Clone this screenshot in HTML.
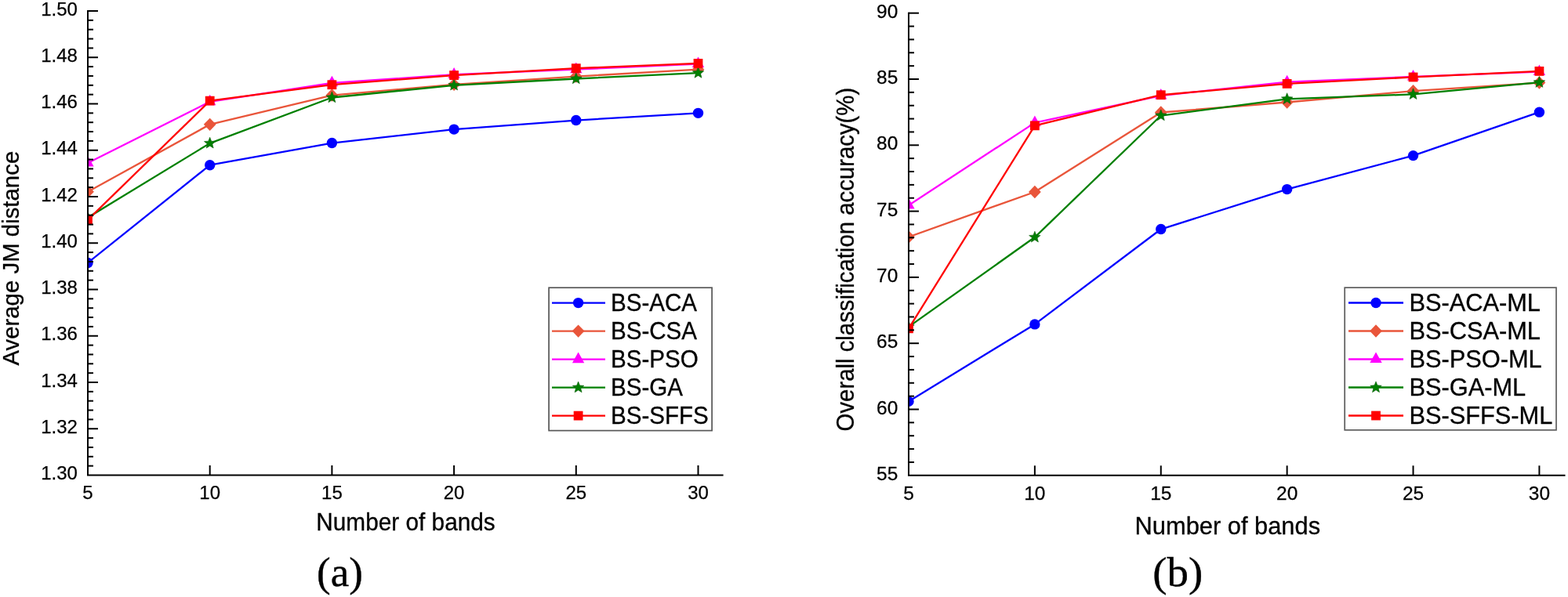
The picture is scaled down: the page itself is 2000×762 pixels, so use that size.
<!DOCTYPE html>
<html><head><meta charset="utf-8"><title>Band selection comparison</title>
<style>html,body{margin:0;padding:0;background:#fff;width:2000px;height:762px;overflow:hidden}svg{display:block}</style>
</head><body>
<svg width="2000" height="762" viewBox="0 0 2000 762">
<rect width="2000" height="762" fill="#fff"/>
<clipPath id="ca"><rect x="112" y="0" width="830.6" height="606.5"/></clipPath>
<g clip-path="url(#ca)">
<polyline points="112.00,335.43 267.70,210.71 423.40,182.57 579.10,165.09 734.80,153.53 890.50,144.35" fill="none" stroke="#0000ff" stroke-width="2.3" stroke-linejoin="round"/>
<circle cx="112.00" cy="335.43" r="6.7" fill="#0000ff"/>
<circle cx="267.70" cy="210.71" r="6.7" fill="#0000ff"/>
<circle cx="423.40" cy="182.57" r="6.7" fill="#0000ff"/>
<circle cx="579.10" cy="165.09" r="6.7" fill="#0000ff"/>
<circle cx="734.80" cy="153.53" r="6.7" fill="#0000ff"/>
<circle cx="890.50" cy="144.35" r="6.7" fill="#0000ff"/>
<polyline points="112.00,244.78 267.70,158.87 423.40,121.54 579.10,107.91 734.80,97.54 890.50,88.65" fill="none" stroke="#e9553a" stroke-width="2.3" stroke-linejoin="round"/>
<path d="M112.00,236.58 L119.90,244.78 L112.00,252.98 L104.10,244.78 Z" fill="#e9553a"/>
<path d="M267.70,150.67 L275.60,158.87 L267.70,167.07 L259.80,158.87 Z" fill="#e9553a"/>
<path d="M423.40,113.34 L431.30,121.54 L423.40,129.74 L415.50,121.54 Z" fill="#e9553a"/>
<path d="M579.10,99.71 L587.00,107.91 L579.10,116.11 L571.20,107.91 Z" fill="#e9553a"/>
<path d="M734.80,89.34 L742.70,97.54 L734.80,105.74 L726.90,97.54 Z" fill="#e9553a"/>
<path d="M890.50,80.45 L898.40,88.65 L890.50,96.85 L882.60,88.65 Z" fill="#e9553a"/>
<polyline points="112.00,208.04 267.70,129.83 423.40,105.84 579.10,95.17 734.80,88.65 890.50,81.54" fill="none" stroke="#ff00ff" stroke-width="2.3" stroke-linejoin="round"/>
<path d="M112.00,198.98 L119.70,212.58 L104.30,212.58 Z" fill="#ff00ff"/>
<path d="M267.70,120.77 L275.40,134.37 L260.00,134.37 Z" fill="#ff00ff"/>
<path d="M423.40,96.77 L431.10,110.37 L415.70,110.37 Z" fill="#ff00ff"/>
<path d="M579.10,86.11 L586.80,99.71 L571.40,99.71 Z" fill="#ff00ff"/>
<path d="M734.80,79.59 L742.50,93.19 L727.10,93.19 Z" fill="#ff00ff"/>
<path d="M890.50,72.48 L898.20,86.08 L882.80,86.08 Z" fill="#ff00ff"/>
<polyline points="112.00,277.66 267.70,182.86 423.40,124.50 579.10,108.80 734.80,100.50 890.50,93.10" fill="none" stroke="#008000" stroke-width="2.3" stroke-linejoin="round"/>
<path d="M112.00,270.06 L113.94,274.99 L119.23,275.31 L115.14,278.68 L116.47,283.81 L112.00,280.96 L107.53,283.81 L108.86,278.68 L104.77,275.31 L110.06,274.99 Z" fill="#008000" stroke="#0a5a0a" stroke-width="0.6" stroke-linejoin="miter"/>
<path d="M267.70,175.26 L269.64,180.19 L274.93,180.51 L270.84,183.88 L272.17,189.01 L267.70,186.16 L263.23,189.01 L264.56,183.88 L260.47,180.51 L265.76,180.19 Z" fill="#008000" stroke="#0a5a0a" stroke-width="0.6" stroke-linejoin="miter"/>
<path d="M423.40,116.90 L425.34,121.83 L430.63,122.15 L426.54,125.52 L427.87,130.65 L423.40,127.80 L418.93,130.65 L420.26,125.52 L416.17,122.15 L421.46,121.83 Z" fill="#008000" stroke="#0a5a0a" stroke-width="0.6" stroke-linejoin="miter"/>
<path d="M579.10,101.20 L581.04,106.13 L586.33,106.45 L582.24,109.82 L583.57,114.95 L579.10,112.10 L574.63,114.95 L575.96,109.82 L571.87,106.45 L577.16,106.13 Z" fill="#008000" stroke="#0a5a0a" stroke-width="0.6" stroke-linejoin="miter"/>
<path d="M734.80,92.90 L736.74,97.84 L742.03,98.16 L737.94,101.52 L739.27,106.65 L734.80,103.80 L730.33,106.65 L731.66,101.52 L727.57,98.16 L732.86,97.84 Z" fill="#008000" stroke="#0a5a0a" stroke-width="0.6" stroke-linejoin="miter"/>
<path d="M890.50,85.50 L892.44,90.43 L897.73,90.75 L893.64,94.12 L894.97,99.25 L890.50,96.40 L886.03,99.25 L887.36,94.12 L883.27,90.75 L888.56,90.43 Z" fill="#008000" stroke="#0a5a0a" stroke-width="0.6" stroke-linejoin="miter"/>
<polyline points="112.00,280.63 267.70,128.65 423.40,108.21 579.10,96.06 734.80,87.17 890.50,80.95" fill="none" stroke="#ff0000" stroke-width="2.3" stroke-linejoin="round"/>
<rect x="106.10" y="274.73" width="11.80" height="11.80" fill="#ff0000"/>
<rect x="261.80" y="122.75" width="11.80" height="11.80" fill="#ff0000"/>
<rect x="417.50" y="102.31" width="11.80" height="11.80" fill="#ff0000"/>
<rect x="573.20" y="90.16" width="11.80" height="11.80" fill="#ff0000"/>
<rect x="728.90" y="81.27" width="11.80" height="11.80" fill="#ff0000"/>
<rect x="884.60" y="75.05" width="11.80" height="11.80" fill="#ff0000"/>
</g>
<g stroke="#000" stroke-width="2" fill="none">
<path d="M112,13 L112,606.5 L922.6,606.5"/>
<path d="M112,594.65 h7"/>
<path d="M112,582.80 h7"/>
<path d="M112,570.95 h7"/>
<path d="M112,559.10 h7"/>
<path d="M112,547.25 h13"/>
<path d="M112,535.40 h7"/>
<path d="M112,523.55 h7"/>
<path d="M112,511.70 h7"/>
<path d="M112,499.85 h7"/>
<path d="M112,488.00 h13"/>
<path d="M112,476.15 h7"/>
<path d="M112,464.30 h7"/>
<path d="M112,452.45 h7"/>
<path d="M112,440.60 h7"/>
<path d="M112,428.75 h13"/>
<path d="M112,416.90 h7"/>
<path d="M112,405.05 h7"/>
<path d="M112,393.20 h7"/>
<path d="M112,381.35 h7"/>
<path d="M112,369.50 h13"/>
<path d="M112,357.65 h7"/>
<path d="M112,345.80 h7"/>
<path d="M112,333.95 h7"/>
<path d="M112,322.10 h7"/>
<path d="M112,310.25 h13"/>
<path d="M112,298.40 h7"/>
<path d="M112,286.55 h7"/>
<path d="M112,274.70 h7"/>
<path d="M112,262.85 h7"/>
<path d="M112,251.00 h13"/>
<path d="M112,239.15 h7"/>
<path d="M112,227.30 h7"/>
<path d="M112,215.45 h7"/>
<path d="M112,203.60 h7"/>
<path d="M112,191.75 h13"/>
<path d="M112,179.90 h7"/>
<path d="M112,168.05 h7"/>
<path d="M112,156.20 h7"/>
<path d="M112,144.35 h7"/>
<path d="M112,132.50 h13"/>
<path d="M112,120.65 h7"/>
<path d="M112,108.80 h7"/>
<path d="M112,96.95 h7"/>
<path d="M112,85.10 h7"/>
<path d="M112,73.25 h13"/>
<path d="M112,61.40 h7"/>
<path d="M112,49.55 h7"/>
<path d="M112,37.70 h7"/>
<path d="M112,25.85 h7"/>
<path d="M112,14.00 h13"/>
<path d="M267.70,606.5 v-12.5"/>
<path d="M423.40,606.5 v-12.5"/>
<path d="M579.10,606.5 v-12.5"/>
<path d="M734.80,606.5 v-12.5"/>
<path d="M890.50,606.5 v-12.5"/>
</g>
<g fill="#000">
<text transform="translate(98.90,612.20)" font-family="'Liberation Sans', Arial, sans-serif" font-size="24" text-anchor="end" stroke="#000" stroke-width="0.25">1.30</text>
<text transform="translate(98.90,552.95)" font-family="'Liberation Sans', Arial, sans-serif" font-size="24" text-anchor="end" stroke="#000" stroke-width="0.25">1.32</text>
<text transform="translate(98.90,493.70)" font-family="'Liberation Sans', Arial, sans-serif" font-size="24" text-anchor="end" stroke="#000" stroke-width="0.25">1.34</text>
<text transform="translate(98.90,434.45)" font-family="'Liberation Sans', Arial, sans-serif" font-size="24" text-anchor="end" stroke="#000" stroke-width="0.25">1.36</text>
<text transform="translate(98.90,375.20)" font-family="'Liberation Sans', Arial, sans-serif" font-size="24" text-anchor="end" stroke="#000" stroke-width="0.25">1.38</text>
<text transform="translate(98.90,315.95)" font-family="'Liberation Sans', Arial, sans-serif" font-size="24" text-anchor="end" stroke="#000" stroke-width="0.25">1.40</text>
<text transform="translate(98.90,256.70)" font-family="'Liberation Sans', Arial, sans-serif" font-size="24" text-anchor="end" stroke="#000" stroke-width="0.25">1.42</text>
<text transform="translate(98.90,197.45)" font-family="'Liberation Sans', Arial, sans-serif" font-size="24" text-anchor="end" stroke="#000" stroke-width="0.25">1.44</text>
<text transform="translate(98.90,138.20)" font-family="'Liberation Sans', Arial, sans-serif" font-size="24" text-anchor="end" stroke="#000" stroke-width="0.25">1.46</text>
<text transform="translate(98.90,78.95)" font-family="'Liberation Sans', Arial, sans-serif" font-size="24" text-anchor="end" stroke="#000" stroke-width="0.25">1.48</text>
<text transform="translate(98.90,19.70)" font-family="'Liberation Sans', Arial, sans-serif" font-size="24" text-anchor="end" stroke="#000" stroke-width="0.25">1.50</text>
<text transform="translate(112.00,637.30)" font-family="'Liberation Sans', Arial, sans-serif" font-size="24" text-anchor="middle" stroke="#000" stroke-width="0.25">5</text>
<text transform="translate(267.70,637.30)" font-family="'Liberation Sans', Arial, sans-serif" font-size="24" text-anchor="middle" stroke="#000" stroke-width="0.25">10</text>
<text transform="translate(423.40,637.30)" font-family="'Liberation Sans', Arial, sans-serif" font-size="24" text-anchor="middle" stroke="#000" stroke-width="0.25">15</text>
<text transform="translate(579.10,637.30)" font-family="'Liberation Sans', Arial, sans-serif" font-size="24" text-anchor="middle" stroke="#000" stroke-width="0.25">20</text>
<text transform="translate(734.80,637.30)" font-family="'Liberation Sans', Arial, sans-serif" font-size="24" text-anchor="middle" stroke="#000" stroke-width="0.25">25</text>
<text transform="translate(890.50,637.30)" font-family="'Liberation Sans', Arial, sans-serif" font-size="24" text-anchor="middle" stroke="#000" stroke-width="0.25">30</text>
</g>
<text transform="translate(517.50,676.80) scale(1.0,1.025)" font-family="'Liberation Sans', Arial, sans-serif" font-size="29.8" text-anchor="middle" stroke="#000" stroke-width="0.3">Number of bands</text>
<text transform="translate(23.90,329.70) rotate(-90) scale(1.0,1.025)" font-family="'Liberation Sans', Arial, sans-serif" font-size="29.4" text-anchor="middle" stroke="#000" stroke-width="0.3">Average JM distance</text>
<rect x="700.1" y="367.2" width="208" height="182.4" fill="#fff" stroke="#575757" stroke-width="1.7"/>
<path d="M704,386.60 H772" stroke="#0000ff" stroke-width="2.3"/>
<circle cx="737.60" cy="386.60" r="6.7" fill="#0000ff"/>
<text transform="translate(778.90,396.80) scale(1.0,1.045)" font-family="'Liberation Sans', Arial, sans-serif" font-size="29.6" stroke="#000" stroke-width="0.3">BS-ACA</text>
<path d="M704,422.60 H772" stroke="#e9553a" stroke-width="2.3"/>
<path d="M737.60,414.40 L745.50,422.60 L737.60,430.80 L729.70,422.60 Z" fill="#e9553a"/>
<text transform="translate(778.90,432.80) scale(1.0,1.045)" font-family="'Liberation Sans', Arial, sans-serif" font-size="29.6" stroke="#000" stroke-width="0.3">BS-CSA</text>
<path d="M704,458.60 H772" stroke="#ff00ff" stroke-width="2.3"/>
<path d="M737.60,449.53 L745.30,463.13 L729.90,463.13 Z" fill="#ff00ff"/>
<text transform="translate(778.90,468.80) scale(1.0,1.045)" font-family="'Liberation Sans', Arial, sans-serif" font-size="29.6" stroke="#000" stroke-width="0.3">BS-PSO</text>
<path d="M704,494.60 H772" stroke="#008000" stroke-width="2.3"/>
<path d="M737.60,487.00 L739.54,491.93 L744.83,492.25 L740.74,495.62 L742.07,500.75 L737.60,497.90 L733.13,500.75 L734.46,495.62 L730.37,492.25 L735.66,491.93 Z" fill="#008000" stroke="#0a5a0a" stroke-width="0.6" stroke-linejoin="miter"/>
<text transform="translate(778.90,504.80) scale(1.0,1.045)" font-family="'Liberation Sans', Arial, sans-serif" font-size="29.6" stroke="#000" stroke-width="0.3">BS-GA</text>
<path d="M704,530.60 H772" stroke="#ff0000" stroke-width="2.3"/>
<rect x="731.70" y="524.70" width="11.80" height="11.80" fill="#ff0000"/>
<text transform="translate(778.90,540.80) scale(1.0,1.045)" font-family="'Liberation Sans', Arial, sans-serif" font-size="29.6" stroke="#000" stroke-width="0.3">BS-SFFS</text>
<text transform="translate(433.50,748.00)" font-family="'Liberation Serif', 'Times New Roman', serif" font-size="53" text-anchor="middle" stroke="#000" stroke-width="0.4">(a)</text>
<clipPath id="cb"><rect x="1159" y="0" width="857.5" height="606.8"/></clipPath>
<g clip-path="url(#cb)">
<polyline points="1159.00,512.38 1319.88,413.92 1480.76,292.53 1641.64,241.61 1802.52,198.62 1963.40,143.15" fill="none" stroke="#0000ff" stroke-width="2.3" stroke-linejoin="round"/>
<circle cx="1159.00" cy="512.38" r="6.7" fill="#0000ff"/>
<circle cx="1319.88" cy="413.92" r="6.7" fill="#0000ff"/>
<circle cx="1480.76" cy="292.53" r="6.7" fill="#0000ff"/>
<circle cx="1641.64" cy="241.61" r="6.7" fill="#0000ff"/>
<circle cx="1802.52" cy="198.62" r="6.7" fill="#0000ff"/>
<circle cx="1963.40" cy="143.15" r="6.7" fill="#0000ff"/>
<polyline points="1159.00,302.48 1319.88,244.98 1480.76,143.49 1641.64,130.50 1802.52,116.17 1963.40,105.55" fill="none" stroke="#e9553a" stroke-width="2.3" stroke-linejoin="round"/>
<path d="M1159.00,294.28 L1166.90,302.48 L1159.00,310.68 L1151.10,302.48 Z" fill="#e9553a"/>
<path d="M1319.88,236.78 L1327.78,244.98 L1319.88,253.18 L1311.98,244.98 Z" fill="#e9553a"/>
<path d="M1480.76,135.29 L1488.66,143.49 L1480.76,151.69 L1472.86,143.49 Z" fill="#e9553a"/>
<path d="M1641.64,122.30 L1649.54,130.50 L1641.64,138.70 L1633.74,130.50 Z" fill="#e9553a"/>
<path d="M1802.52,107.97 L1810.42,116.17 L1802.52,124.37 L1794.62,116.17 Z" fill="#e9553a"/>
<path d="M1963.40,97.35 L1971.30,105.55 L1963.40,113.75 L1955.50,105.55 Z" fill="#e9553a"/>
<polyline points="1159.00,262.01 1319.88,156.64 1480.76,122.07 1641.64,104.71 1802.52,97.97 1963.40,91.56" fill="none" stroke="#ff00ff" stroke-width="2.3" stroke-linejoin="round"/>
<path d="M1159.00,252.95 L1166.70,266.55 L1151.30,266.55 Z" fill="#ff00ff"/>
<path d="M1319.88,147.57 L1327.58,161.17 L1312.18,161.17 Z" fill="#ff00ff"/>
<path d="M1480.76,113.01 L1488.46,126.61 L1473.06,126.61 Z" fill="#ff00ff"/>
<path d="M1641.64,95.64 L1649.34,109.24 L1633.94,109.24 Z" fill="#ff00ff"/>
<path d="M1802.52,88.90 L1810.22,102.50 L1794.82,102.50 Z" fill="#ff00ff"/>
<path d="M1963.40,82.49 L1971.10,96.09 L1955.70,96.09 Z" fill="#ff00ff"/>
<polyline points="1159.00,417.12 1319.88,302.81 1480.76,147.53 1641.64,126.29 1802.52,120.39 1963.40,105.21" fill="none" stroke="#008000" stroke-width="2.3" stroke-linejoin="round"/>
<path d="M1159.00,409.52 L1160.94,414.46 L1166.23,414.78 L1162.14,418.14 L1163.47,423.27 L1159.00,420.42 L1154.53,423.27 L1155.86,418.14 L1151.77,414.78 L1157.06,414.46 Z" fill="#008000" stroke="#0a5a0a" stroke-width="0.6" stroke-linejoin="miter"/>
<path d="M1319.88,295.21 L1321.82,300.14 L1327.11,300.47 L1323.02,303.83 L1324.35,308.96 L1319.88,306.11 L1315.41,308.96 L1316.74,303.83 L1312.65,300.47 L1317.94,300.14 Z" fill="#008000" stroke="#0a5a0a" stroke-width="0.6" stroke-linejoin="miter"/>
<path d="M1480.76,139.93 L1482.70,144.86 L1487.99,145.19 L1483.90,148.55 L1485.23,153.68 L1480.76,150.83 L1476.29,153.68 L1477.62,148.55 L1473.53,145.19 L1478.82,144.86 Z" fill="#008000" stroke="#0a5a0a" stroke-width="0.6" stroke-linejoin="miter"/>
<path d="M1641.64,118.69 L1643.58,123.62 L1648.87,123.94 L1644.78,127.31 L1646.11,132.44 L1641.64,129.59 L1637.17,132.44 L1638.50,127.31 L1634.41,123.94 L1639.70,123.62 Z" fill="#008000" stroke="#0a5a0a" stroke-width="0.6" stroke-linejoin="miter"/>
<path d="M1802.52,112.79 L1804.46,117.72 L1809.75,118.04 L1805.66,121.41 L1806.99,126.54 L1802.52,123.69 L1798.05,126.54 L1799.38,121.41 L1795.29,118.04 L1800.58,117.72 Z" fill="#008000" stroke="#0a5a0a" stroke-width="0.6" stroke-linejoin="miter"/>
<path d="M1963.40,97.61 L1965.34,102.55 L1970.63,102.87 L1966.54,106.23 L1967.87,111.36 L1963.40,108.51 L1958.93,111.36 L1960.26,106.23 L1956.17,102.87 L1961.46,102.55 Z" fill="#008000" stroke="#0a5a0a" stroke-width="0.6" stroke-linejoin="miter"/>
<polyline points="1159.00,419.32 1319.88,160.35 1480.76,121.23 1641.64,106.90 1802.52,98.47 1963.40,90.88" fill="none" stroke="#ff0000" stroke-width="2.3" stroke-linejoin="round"/>
<rect x="1153.10" y="413.42" width="11.80" height="11.80" fill="#ff0000"/>
<rect x="1313.98" y="154.45" width="11.80" height="11.80" fill="#ff0000"/>
<rect x="1474.86" y="115.33" width="11.80" height="11.80" fill="#ff0000"/>
<rect x="1635.74" y="101.00" width="11.80" height="11.80" fill="#ff0000"/>
<rect x="1796.62" y="92.57" width="11.80" height="11.80" fill="#ff0000"/>
<rect x="1957.50" y="84.98" width="11.80" height="11.80" fill="#ff0000"/>
</g>
<g stroke="#000" stroke-width="2" fill="none">
<path d="M1159,15.7 L1159,606.8 L1996.5,606.8"/>
<path d="M1159,589.94 h7"/>
<path d="M1159,573.08 h7"/>
<path d="M1159,556.22 h7"/>
<path d="M1159,539.36 h7"/>
<path d="M1159,522.50 h13"/>
<path d="M1159,505.64 h7"/>
<path d="M1159,488.78 h7"/>
<path d="M1159,471.92 h7"/>
<path d="M1159,455.06 h7"/>
<path d="M1159,438.20 h13"/>
<path d="M1159,421.34 h7"/>
<path d="M1159,404.48 h7"/>
<path d="M1159,387.62 h7"/>
<path d="M1159,370.76 h7"/>
<path d="M1159,353.90 h13"/>
<path d="M1159,337.04 h7"/>
<path d="M1159,320.18 h7"/>
<path d="M1159,303.32 h7"/>
<path d="M1159,286.46 h7"/>
<path d="M1159,269.60 h13"/>
<path d="M1159,252.74 h7"/>
<path d="M1159,235.88 h7"/>
<path d="M1159,219.02 h7"/>
<path d="M1159,202.16 h7"/>
<path d="M1159,185.30 h13"/>
<path d="M1159,168.44 h7"/>
<path d="M1159,151.58 h7"/>
<path d="M1159,134.72 h7"/>
<path d="M1159,117.86 h7"/>
<path d="M1159,101.00 h13"/>
<path d="M1159,84.14 h7"/>
<path d="M1159,67.28 h7"/>
<path d="M1159,50.42 h7"/>
<path d="M1159,33.56 h7"/>
<path d="M1159,16.70 h13"/>
<path d="M1319.88,606.8 v-12.5"/>
<path d="M1480.76,606.8 v-12.5"/>
<path d="M1641.64,606.8 v-12.5"/>
<path d="M1802.52,606.8 v-12.5"/>
<path d="M1963.40,606.8 v-12.5"/>
</g>
<g fill="#000">
<text transform="translate(1145.30,612.80) scale(1.02,1.0)" font-family="'Liberation Sans', Arial, sans-serif" font-size="24" text-anchor="end" stroke="#000" stroke-width="0.25">55</text>
<text transform="translate(1145.30,528.50) scale(1.02,1.0)" font-family="'Liberation Sans', Arial, sans-serif" font-size="24" text-anchor="end" stroke="#000" stroke-width="0.25">60</text>
<text transform="translate(1145.30,444.20) scale(1.02,1.0)" font-family="'Liberation Sans', Arial, sans-serif" font-size="24" text-anchor="end" stroke="#000" stroke-width="0.25">65</text>
<text transform="translate(1145.30,359.90) scale(1.02,1.0)" font-family="'Liberation Sans', Arial, sans-serif" font-size="24" text-anchor="end" stroke="#000" stroke-width="0.25">70</text>
<text transform="translate(1145.30,275.60) scale(1.02,1.0)" font-family="'Liberation Sans', Arial, sans-serif" font-size="24" text-anchor="end" stroke="#000" stroke-width="0.25">75</text>
<text transform="translate(1145.30,191.30) scale(1.02,1.0)" font-family="'Liberation Sans', Arial, sans-serif" font-size="24" text-anchor="end" stroke="#000" stroke-width="0.25">80</text>
<text transform="translate(1145.30,107.00) scale(1.02,1.0)" font-family="'Liberation Sans', Arial, sans-serif" font-size="24" text-anchor="end" stroke="#000" stroke-width="0.25">85</text>
<text transform="translate(1145.30,22.70) scale(1.02,1.0)" font-family="'Liberation Sans', Arial, sans-serif" font-size="24" text-anchor="end" stroke="#000" stroke-width="0.25">90</text>
<text transform="translate(1159.00,637.70) scale(1.02,1.0)" font-family="'Liberation Sans', Arial, sans-serif" font-size="24" text-anchor="middle" stroke="#000" stroke-width="0.25">5</text>
<text transform="translate(1319.88,637.70) scale(1.02,1.0)" font-family="'Liberation Sans', Arial, sans-serif" font-size="24" text-anchor="middle" stroke="#000" stroke-width="0.25">10</text>
<text transform="translate(1480.76,637.70) scale(1.02,1.0)" font-family="'Liberation Sans', Arial, sans-serif" font-size="24" text-anchor="middle" stroke="#000" stroke-width="0.25">15</text>
<text transform="translate(1641.64,637.70) scale(1.02,1.0)" font-family="'Liberation Sans', Arial, sans-serif" font-size="24" text-anchor="middle" stroke="#000" stroke-width="0.25">20</text>
<text transform="translate(1802.52,637.70) scale(1.02,1.0)" font-family="'Liberation Sans', Arial, sans-serif" font-size="24" text-anchor="middle" stroke="#000" stroke-width="0.25">25</text>
<text transform="translate(1963.40,637.70) scale(1.02,1.0)" font-family="'Liberation Sans', Arial, sans-serif" font-size="24" text-anchor="middle" stroke="#000" stroke-width="0.25">30</text>
</g>
<text transform="translate(1565.80,681.80) scale(1.035,1.025)" font-family="'Liberation Sans', Arial, sans-serif" font-size="29.8" text-anchor="middle" stroke="#000" stroke-width="0.3">Number of bands</text>
<text transform="translate(1088.60,331.10) rotate(-90) scale(1.0,1.06)" font-family="'Liberation Sans', Arial, sans-serif" font-size="29.35" text-anchor="middle" stroke="#000" stroke-width="0.3">Overall classification accuracy(%)</text>
<rect x="1715.2" y="367.1" width="269.8" height="181.8" fill="#fff" stroke="#5e5e5e" stroke-width="1.7"/>
<path d="M1720,386.50 H1790" stroke="#0000ff" stroke-width="2.3"/>
<circle cx="1755.00" cy="386.50" r="6.7" fill="#0000ff"/>
<text transform="translate(1797.40,396.70) scale(1.04,1.045)" font-family="'Liberation Sans', Arial, sans-serif" font-size="29.6" stroke="#000" stroke-width="0.3">BS-ACA-ML</text>
<path d="M1720,422.50 H1790" stroke="#e9553a" stroke-width="2.3"/>
<path d="M1755.00,414.30 L1762.90,422.50 L1755.00,430.70 L1747.10,422.50 Z" fill="#e9553a"/>
<text transform="translate(1797.40,432.70) scale(1.04,1.045)" font-family="'Liberation Sans', Arial, sans-serif" font-size="29.6" stroke="#000" stroke-width="0.3">BS-CSA-ML</text>
<path d="M1720,458.50 H1790" stroke="#ff00ff" stroke-width="2.3"/>
<path d="M1755.00,449.43 L1762.70,463.03 L1747.30,463.03 Z" fill="#ff00ff"/>
<text transform="translate(1797.40,468.70) scale(1.04,1.045)" font-family="'Liberation Sans', Arial, sans-serif" font-size="29.6" stroke="#000" stroke-width="0.3">BS-PSO-ML</text>
<path d="M1720,494.50 H1790" stroke="#008000" stroke-width="2.3"/>
<path d="M1755.00,486.90 L1756.94,491.83 L1762.23,492.15 L1758.14,495.52 L1759.47,500.65 L1755.00,497.80 L1750.53,500.65 L1751.86,495.52 L1747.77,492.15 L1753.06,491.83 Z" fill="#008000" stroke="#0a5a0a" stroke-width="0.6" stroke-linejoin="miter"/>
<text transform="translate(1797.40,504.70) scale(1.04,1.045)" font-family="'Liberation Sans', Arial, sans-serif" font-size="29.6" stroke="#000" stroke-width="0.3">BS-GA-ML</text>
<path d="M1720,530.50 H1790" stroke="#ff0000" stroke-width="2.3"/>
<rect x="1749.10" y="524.60" width="11.80" height="11.80" fill="#ff0000"/>
<text transform="translate(1797.40,540.70) scale(1.04,1.045)" font-family="'Liberation Sans', Arial, sans-serif" font-size="29.6" stroke="#000" stroke-width="0.3">BS-SFFS-ML</text>
<text transform="translate(1502.30,748.00) scale(1.035,1.0)" font-family="'Liberation Serif', 'Times New Roman', serif" font-size="53" text-anchor="middle" stroke="#000" stroke-width="0.4">(b)</text>
</svg>
</body></html>
